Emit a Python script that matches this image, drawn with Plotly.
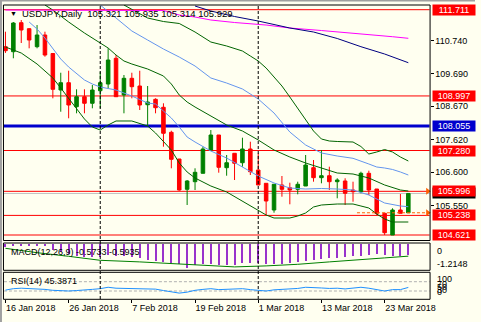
import plotly.graph_objects as go

W, H = 481, 322
def px(x): return x / W
def py(y): return 1 - y / H

FONT = "Liberation Sans"

# ---- data ----
tick_idx = [0, 8, 16, 24, 32, 40, 48]
tick_labels = ["16 Jan 2018", "26 Jan 2018", "7 Feb 2018", "19 Feb 2018",
               "1 Mar 2018", "13 Mar 2018", "23 Mar 2018"]

opens = [110.547, 110.389, 111.302, 111.113, 110.547, 110.915, 110.333, 109.184, 109.414, 108.659,
         108.973, 108.766, 109.162, 109.373, 110.182, 109.027, 109.552, 109.310, 108.721, 108.891,
         108.640, 107.853, 107.013, 106.059, 106.299, 106.563, 107.296, 107.768, 106.739, 107.192,
         106.896, 107.328, 106.667, 106.248, 105.408, 106.195, 106.110, 106.059, 106.163, 106.739,
         106.425, 106.487, 106.299, 106.321, 106.037, 105.984, 106.563, 106.069, 105.304, 104.621,
         105.408, 105.321]
highs = [111.019, 111.324, 111.387, 111.126, 111.229, 111.019, 110.348, 109.728, 109.791, 109.206,
         109.206, 109.341, 109.760, 110.496, 110.285, 109.656, 109.728, 109.791, 109.310, 108.923,
         108.766, 107.903, 107.013, 106.352, 106.720, 107.400, 107.925, 107.768, 107.139, 107.192,
         107.683, 107.557, 107.192, 106.248, 106.217, 106.478, 106.267, 106.299, 107.139, 106.981,
         107.296, 106.771, 106.406, 106.406, 106.299, 106.613, 106.645, 106.069, 105.304, 105.462,
         105.912, 105.935]
lows = [110.350, 110.182, 110.663, 110.496, 110.496, 110.232, 108.923, 108.501, 108.294, 108.451,
        108.451, 108.608, 108.608, 109.238, 108.964, 108.451, 108.923, 108.555, 108.051, 108.451,
        107.400, 106.720, 106.015, 105.565, 106.037, 106.563, 107.274, 106.582, 106.487, 106.352,
        106.771, 106.509, 106.195, 105.251, 105.323, 105.827, 105.587, 105.902, 106.163, 106.299,
        106.248, 106.037, 105.776, 105.565, 105.669, 105.934, 105.880, 105.251, 104.621, 104.621,
        105.304, 105.314]
closes = [110.421, 111.292, 111.072, 110.757, 110.915, 110.285, 109.206, 109.414, 108.712, 108.973,
          108.766, 109.184, 109.414, 110.128, 108.973, 109.552, 109.288, 108.712, 108.806, 108.627,
          107.822, 107.003, 106.037, 106.321, 106.594, 107.328, 107.768, 106.752, 106.896, 106.878,
          107.328, 106.613, 106.195, 105.691, 106.217, 106.059, 106.037, 106.217, 106.824, 106.425,
          106.487, 106.299, 106.352, 105.934, 105.984, 106.563, 106.037, 105.304, 104.694, 105.408,
          105.304, 105.929]

# Bollinger-style bands (index, value)
bb_up_idx = [15, 16, 18, 20, 22, 24, 26, 28, 30, 31, 32, 33, 34, 35, 36, 37, 38, 39, 40, 41, 42, 43, 44, 45, 46, 47, 48, 49, 50, 51]
bb_up_val = [111.859, 111.730, 111.450, 111.339, 111.277, 111.009, 110.694, 110.569, 110.411, 110.254,
             110.097, 109.876, 109.593, 109.310, 108.964, 108.618, 108.272, 107.894, 107.642, 107.579,
             107.564, 107.557, 107.548, 107.406, 107.170, 107.233, 107.312, 107.233, 107.076, 106.950]
b1_up_idx = [12, 14, 16, 18, 20, 22, 24, 26, 28, 30, 32, 34, 36, 38, 40, 42, 44, 46, 47, 48, 49, 50, 51]
b1_up_val = [111.859, 111.450, 111.041, 110.757, 110.474, 110.222, 109.939, 109.562, 109.404, 109.216,
             108.901, 108.460, 107.862, 107.453, 107.202, 107.107, 107.035, 106.856, 106.761, 106.730,
             106.683, 106.604, 106.509]
bb_mid_idx = [5, 6, 8, 10, 12, 13, 14, 15, 16, 18, 20, 21, 22, 23, 24, 26, 28, 30, 32, 34, 36, 38, 40, 42, 44, 46, 48, 50, 51]
bb_mid_val = [111.859, 111.701, 111.324, 110.978, 110.663, 110.506, 110.285, 110.097, 110.002, 109.845,
              109.625, 109.373, 109.027, 108.806, 108.649, 108.366, 108.083, 107.894, 107.611, 107.296,
              107.076, 106.887, 106.730, 106.572, 106.541, 106.415, 106.195, 106.037, 106.006]
b1_lo_idx = [3, 4, 5, 6, 7, 8, 9, 10, 11, 12, 14, 16, 18, 19, 20, 21, 22, 23, 24, 26, 28, 30, 32, 34, 36, 38, 40, 42, 44, 46, 48, 50, 51]
b1_lo_val = [111.324, 111.103, 110.820, 110.474, 110.159, 109.908, 109.688, 109.499, 109.373, 109.278,
             109.184, 108.995, 108.775, 108.744, 108.523, 108.303, 108.020, 107.705, 107.548, 107.265,
             107.044, 106.761, 106.478, 106.258, 106.100, 106.069, 106.085, 106.069, 106.037, 105.880,
             105.628, 105.534, 105.512]
bb_lo_idx = [0, 2, 4, 6, 7, 8, 9, 10, 11, 12, 13, 14, 16, 18, 19, 20, 21, 22, 23, 24, 25, 26, 28, 30, 32, 33,
             34, 36, 37, 38, 39, 40, 42, 44, 45, 46, 47, 48, 49, 50, 51]
bb_lo_val = [110.537, 110.348, 110.002, 109.562, 109.247, 108.932, 108.618, 108.272, 108.020, 107.925,
             108.083, 108.209, 108.209, 108.051, 107.831, 107.579, 107.296, 106.887, 106.604, 106.415,
             106.289, 106.163, 105.975, 105.691, 105.408, 105.251, 105.156, 105.156, 105.219, 105.314,
             105.503, 105.565, 105.597, 105.597, 105.534, 105.471, 105.282, 105.125, 105.030, 105.030,
             105.030]
# long moving averages
ma_mag_idx = [0, 10, 20, 22, 24, 26, 29, 33, 36, 40, 44, 47, 49, 51]
ma_mag_val = [111.701, 111.701, 111.686, 111.544, 111.481, 111.387, 111.308, 111.229, 111.135, 111.056,
              110.978, 110.915, 110.861, 110.811]
ma_navy_idx = [24, 26, 29, 32, 36, 39, 42, 45, 48, 51]
ma_navy_val = [111.827, 111.670, 111.497, 111.355, 111.135, 111.009, 110.805, 110.547, 110.317, 110.043]

red_levels = [111.711, 108.997, 107.280, 105.996, 105.238, 104.621]
blue_level = 108.055
bid_level = 105.929
open_level = 105.321
price_ticks = [110.740, 109.690, 108.670, 107.620, 106.600, 105.550]

macd_main = [-0.15, -0.10, -0.06, -0.06, -0.07, -0.12, -0.28, -0.38, -0.50, -0.58,
             -0.64, -0.66, -0.64, -0.56, -0.62, -0.62, -0.63, -0.70, -0.78, -0.85,
             -0.90, -0.95, -1.00, -1.21, -1.05, -1.02, -1.00, -1.05, -1.05, -1.05,
             -0.96, -0.96, -0.96, -1.01, -1.01, -1.01, -0.96, -0.88, -0.85, -0.80,
             -0.75, -0.72, -0.68, -0.63, -0.58, -0.58, -0.55, -0.52, -0.55, -0.58,
             -0.58, -0.5733]
macd_sig_idx = [0, 4, 8, 12, 17, 21, 24, 29, 33, 37, 41, 45, 48, 51]
macd_sig_val = [-0.20, -0.42, -0.60, -0.80, -0.88, -0.97, -1.02, -1.13, -1.08, -1.00, -0.88, -0.75, -0.68, -0.5935]

rsi_vals = [34, 40, 42, 41, 40, 37, 33, 31, 30, 32, 33, 37, 40, 46, 42, 41, 40, 40, 39, 38,
            32, 27, 21, 25, 33, 37, 40, 36, 37, 37, 40, 36, 33, 30, 35, 36, 38, 41, 46, 43,
            43, 41, 42, 39, 41, 46, 42, 35, 30, 36, 36, 45.3871]
rsi_levels = [70, 30]

separators = [12, 32]

idx = list(range(len(opens)))

# ---- figure ----
fig = go.Figure()
fig.add_trace(go.Candlestick(
    x=idx, open=opens, high=highs, low=lows, close=closes,
    increasing=dict(line=dict(color="#008000", width=1), fillcolor="#008000"),
    decreasing=dict(line=dict(color="#FF0000", width=1), fillcolor="#FF0000"),
    whiskerwidth=0, xaxis="x", yaxis="y", hoverinfo="skip"))

def line(xs, ys, color, yaxis="y", width=1):
    fig.add_trace(go.Scatter(x=xs, y=ys, mode="lines", line=dict(color=color, width=width),
                             xaxis="x", yaxis=yaxis, hoverinfo="skip"))

line(bb_up_idx, bb_up_val, "#006400")
line(b1_up_idx, b1_up_val, "#6495ED")
line(bb_mid_idx, bb_mid_val, "#006400")
line(b1_lo_idx, b1_lo_val, "#6495ED")
line(bb_lo_idx, bb_lo_val, "#006400")
line(ma_mag_idx, ma_mag_val, "#FF00FF")
line(ma_navy_idx, ma_navy_val, "#000080")

# open-price dashed marker and arrows
fig.add_trace(go.Scatter(x=[44.5, 53.4], y=[open_level, open_level], mode="lines",
                         line=dict(color="#FF6000", width=1, dash="3px,2px"),
                         xaxis="x", yaxis="y", hoverinfo="skip"))
fig.add_trace(go.Scatter(x=[53.45, 53.45], y=[red_levels[3], open_level], mode="markers",
                         marker=dict(symbol="triangle-right", size=6, color="#FF6000"),
                         cliponaxis=False, xaxis="x", yaxis="y", hoverinfo="skip"))

# MACD
fig.add_trace(go.Bar(x=idx, y=macd_main, width=0.14, marker=dict(color="#9933CC", line=dict(width=0)),
                     xaxis="x", yaxis="y2", hoverinfo="skip"))
line(macd_sig_idx, macd_sig_val, "#008000", yaxis="y2")

# RSI
line(idx, rsi_vals, "#1E90FF", yaxis="y3")

shapes = []
# level lines
for lv in red_levels:
    shapes.append(dict(type="line", xref="x domain", x0=0, x1=1, yref="y", y0=lv, y1=lv,
                       line=dict(color="#FF0000", width=1), layer="below"))
shapes.append(dict(type="line", xref="x domain", x0=0, x1=1, yref="y", y0=bid_level, y1=bid_level,
                   line=dict(color="#C0C0C0", width=1), layer="below"))
shapes.append(dict(type="line", xref="x domain", x0=0, x1=1, yref="y", y0=blue_level, y1=blue_level,
                   line=dict(color="#0000CD", width=3), layer="below"))
for lv in rsi_levels:
    shapes.append(dict(type="line", xref="x domain", x0=0, x1=1, yref="y3", y0=lv, y1=lv,
                       line=dict(color="#B0B0B0", width=1, dash="3px,2px"), layer="below"))
# period separators
for s in separators:
    shapes.append(dict(type="line", xref="x", x0=s, x1=s, yref="paper", y0=py(299), y1=py(5),
                       line=dict(color="#000000", width=1, dash="3px,2px")))
# panel borders
for top, bot in [(5, 240.5), (243, 270.3), (272.3, 299.3)]:
    shapes.append(dict(type="rect", xref="paper", yref="paper", x0=px(3.5), x1=px(435.5),
                       y0=py(bot), y1=py(top), line=dict(color="#000000", width=1)))
# window frame
shapes.append(dict(type="rect", xref="paper", yref="paper", x0=0, x1=px(2), y0=0, y1=1,
                   fillcolor="#A0A0A0", line=dict(width=0)))
shapes.append(dict(type="rect", xref="paper", yref="paper", x0=0, x1=1, y0=py(1.5), y1=1,
                   fillcolor="#A0A0A0", line=dict(width=0)))

ann = []
def label(y, text, bg, yref="y"):
    ann.append(dict(x=px(437), xref="paper", xanchor="left", y=y, yref=yref, yanchor="middle",
                    text=text, showarrow=False, bgcolor=bg, width=42, height=10, borderpad=0,
                    align="center", font=dict(family=FONT, size=9, color="#FFFFFF")))

label(bid_level, f"{bid_level:.3f}", "#000000")
for lv in red_levels:
    label(lv, f"{lv:.3f}", "#FF0000")
label(blue_level, f"{blue_level:.3f}", "#0000CD")

def text(x, y, t, size=9, color="#000000"):
    ann.append(dict(x=px(x), xref="paper", xanchor="left", y=py(y), yref="paper", yanchor="middle",
                    text=t, showarrow=False, font=dict(family=FONT, size=size, color=color)))

text(8.5, 13, "▼", size=7)
text(20, 13.3, f"USDJPY,Daily  {opens[-1]:.3f} {highs[-1]:.3f} {lows[-1]:.3f} {closes[-1]:.3f}", size=9.5)
text(9.5, 251.7, f"MACD(12,26,9) {macd_main[-1]:.4f} {macd_sig_val[-1]:.4f}")
text(9, 281, f"RSI(14) {rsi_vals[-1]:.4f}")
text(441, 250.7, "0")
text(441, 264, f"{min(macd_main) - 0.0048:.4f}")
for t, yy in [("100", 278.5), ("70", 284), ("50", 286.5), ("30", 289.5), ("0", 291.5)]:
    text(440, yy, t)

fig.update_layout(
    width=W, height=H, autosize=False, margin=dict(l=0, r=0, t=0, b=0),
    paper_bgcolor="#FFFFF0", plot_bgcolor="#FFFFF0", showlegend=False,
    boxgap=0.36, bargap=0,
    shapes=shapes, annotations=ann,
    xaxis=dict(domain=[px(4), px(435)], range=[-0.19, 53.69], anchor="y3",
               tickmode="array", tickvals=tick_idx, ticktext=tick_labels,
               ticks="outside", ticklen=3, tickcolor="#000000", ticklabelposition="outside right",
               tickfont=dict(family=FONT, size=9, color="#000000"),
               showgrid=False, zeroline=False, showline=False,
               rangeslider=dict(visible=False)),
    yaxis=dict(domain=[py(240), py(5)], range=[104.464, 111.859], side="right", anchor="x",
               tickmode="array", tickvals=price_ticks, ticktext=[f"{v:.3f}" for v in price_ticks],
               ticks="outside", ticklen=3, tickcolor="#000000",
               tickfont=dict(family=FONT, size=9, color="#000000"),
               showgrid=False, zeroline=False, showline=False),
    yaxis2=dict(domain=[py(270), py(243.3)], range=[-1.285, 0.05], anchor="x",
                showticklabels=False, showgrid=False, zeroline=False, showline=False),
    yaxis3=dict(domain=[py(299), py(272.5)], range=[-4.4, 109.6], anchor="x",
                showticklabels=False, showgrid=False, zeroline=False, showline=False),
)

fig.write_html("out.html")
